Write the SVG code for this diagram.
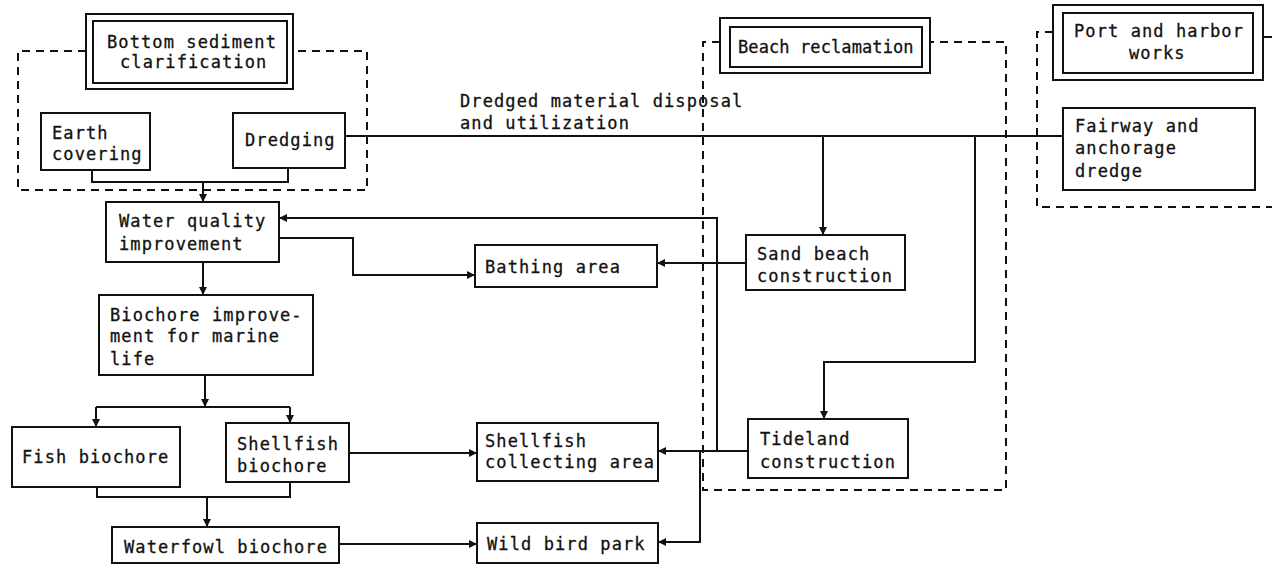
<svg xmlns="http://www.w3.org/2000/svg" width="1272" height="565" viewBox="0 0 1272 565">
<style>
.bx{fill:#fff;stroke:#111;stroke-width:2}
.ln{fill:none;stroke:#111;stroke-width:2}
.ar{fill:none;stroke:#111;stroke-width:2;marker-end:url(#ah)}
.ds{fill:none;stroke:#111;stroke-width:2;stroke-dasharray:8 6}
text{font-family:"DejaVu Sans Mono","Liberation Mono",monospace;font-size:17px;letter-spacing:1.1px;fill:#111;stroke:#111;stroke-width:0.3}
.tight{letter-spacing:0.1px}
</style>
<defs>
<marker id="ah" viewBox="0 0 10 10" refX="10" refY="5" markerWidth="9" markerHeight="8" orient="auto" markerUnits="userSpaceOnUse">
<path d="M0,0 L10,5 L0,10 z" fill="#111"/>
</marker>
</defs>
<rect width="1272" height="565" fill="#fff"/>

<g id="groups">
<path class="ds" d="M86,51 H18 V190 H367 V51 H293"/>
<path class="ds" d="M720,42 H703 V490 H1006 V42 H930"/>
<path class="ds" d="M1053,32 H1037 V207 H1272"/>
<path class="ds" d="M1264,37 H1272"/>
</g>

<g id="connectors">
<path class="ln" d="M92,170 V182 H288 V168"/>
<path class="ar" d="M203,182 V202"/>
<path class="ln" d="M345,136 H1063"/>
<text x="460" y="107">Dredged material disposal</text>
<text x="460" y="129">and utilization</text>
<path class="ar" d="M823,136 V235"/>
<path class="ar" d="M975,136 V362 H824 V419"/>
<path class="ar" d="M203,262 V295"/>
<path class="ar" d="M279,238 H353 V275 H475"/>
<path class="ar" d="M746,263 H657"/>
<path class="ar" d="M748,451 H658"/>
<path class="ar" d="M717,451 V218 H279"/>
<path class="ar" d="M700,451 V542 H658"/>
<path class="ar" d="M205,375 V407"/>
<path class="ln" d="M96,407 H290"/>
<path class="ar" d="M96,407 V427"/>
<path class="ar" d="M290,407 V423"/>
<path class="ln" d="M97,487 V497 H290 V482"/>
<path class="ar" d="M207,497 V527"/>
<path class="ar" d="M349,453 H477"/>
<path class="ar" d="M339,544 H477"/>
</g>

<g id="n-bottom-sediment">
<rect class="bx" x="86" y="14" width="207" height="75"/>
<rect class="bx" x="93" y="21" width="194" height="62"/>
<text x="107" y="48">Bottom sediment</text>
<text x="120" y="68">clarification</text>
</g>
<g id="n-earth-covering">
<rect class="bx" x="41" y="113" width="109" height="57"/>
<text x="52" y="139">Earth</text>
<text x="52" y="160">covering</text>
</g>
<g id="n-dredging">
<rect class="bx" x="233" y="113" width="112" height="55"/>
<text x="245" y="146">Dredging</text>
</g>
<g id="n-beach-reclamation">
<rect class="bx" x="720" y="18" width="210" height="55"/>
<rect class="bx" x="730" y="27" width="192" height="40"/>
<text class="tight" x="738" y="53">Beach reclamation</text>
</g>
<g id="n-port-harbor">
<rect class="bx" x="1053" y="5" width="210" height="75"/>
<rect class="bx" x="1063" y="13" width="190" height="60"/>
<text x="1074" y="37">Port and harbor</text>
<text x="1129" y="59">works</text>
</g>
<g id="n-fairway">
<rect class="bx" x="1063" y="108" width="192" height="82"/>
<text x="1075" y="132">Fairway and</text>
<text x="1075" y="154">anchorage</text>
<text x="1075" y="177">dredge</text>
</g>
<g id="n-water-quality">
<rect class="bx" x="106" y="202" width="173" height="60"/>
<text x="119" y="227">Water quality</text>
<text x="119" y="250">improvement</text>
</g>
<g id="n-bathing">
<rect class="bx" x="475" y="245" width="182" height="42"/>
<text x="485" y="273">Bathing area</text>
</g>
<g id="n-sand-beach">
<rect class="bx" x="746" y="235" width="159" height="55"/>
<text x="757" y="260">Sand beach</text>
<text x="757" y="282">construction</text>
</g>
<g id="n-biochore">
<rect class="bx" x="99" y="295" width="214" height="80"/>
<text x="110" y="321">Biochore improve-</text>
<text x="110" y="342">ment for marine</text>
<text x="110" y="365">life</text>
</g>
<g id="n-fish">
<rect class="bx" x="12" y="427" width="168" height="60"/>
<text x="22" y="463">Fish biochore</text>
</g>
<g id="n-shellfish-biochore">
<rect class="bx" x="226" y="423" width="123" height="59"/>
<text x="237" y="450">Shellfish</text>
<text x="237" y="472">biochore</text>
</g>
<g id="n-shellfish-collecting">
<rect class="bx" x="477" y="423" width="181" height="58"/>
<text x="485" y="447">Shellfish</text>
<text x="485" y="468">collecting area</text>
</g>
<g id="n-tideland">
<rect class="bx" x="748" y="419" width="160" height="59"/>
<text x="760" y="445">Tideland</text>
<text x="760" y="468">construction</text>
</g>
<g id="n-waterfowl">
<rect class="bx" x="112" y="527" width="227" height="36"/>
<text x="124" y="553">Waterfowl biochore</text>
</g>
<g id="n-wild-bird">
<rect class="bx" x="477" y="523" width="181" height="40"/>
<text x="487" y="550">Wild bird park</text>
</g>
</svg>
